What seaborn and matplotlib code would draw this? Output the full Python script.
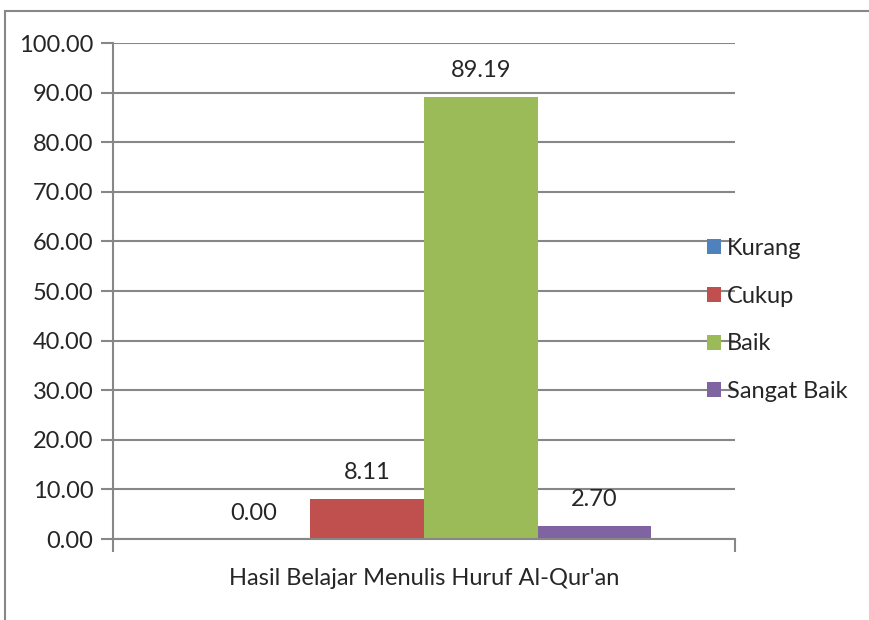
import matplotlib.pyplot as plt
import numpy as np
import pandas as pd
import seaborn as sns
from matplotlib.patches import Rectangle

## Data
group_label = "Hasil Belajar Menulis Huruf Al-Qur'an"
categories = ['Kurang', 'Cukup', 'Baik', 'Sangat Baik']
values = [0.00, 8.11, 89.19, 2.70]
colors = ['#4F81BD', '#C0504D', '#9BBB59', '#8064A2']
yticks = np.arange(0, 101, 10)

df = pd.DataFrame({'grp': [group_label] * len(categories), 'kategori': categories, 'nilai': values})

sns.set_style('white')
plt.rcParams['font.family'] = ['Lato', 'DejaVu Sans']
grid_col = '#878787'
fs = 17

fig = plt.figure(figsize=(8.7, 6.2), dpi=100)
ax = fig.add_axes([113 / 870, 1 - 539 / 620, (735 - 113) / 870, (539 - 43) / 620])

sns.barplot(data=df, x='grp', y='nilai', hue='kategori', hue_order=categories,
            palette=colors, width=0.73, saturation=1, linewidth=0, ax=ax, legend=True)

for c in ax.containers:
    ax.bar_label(c, fmt='%.2f', padding=11, fontsize=fs)

ax.set_ylim(0, 100)
ax.set_xlim(-0.5, 0.5)
ax.set_yticks(yticks)
ax.set_yticklabels([f'{v:.2f}' for v in yticks], fontsize=fs)
ax.yaxis.grid(True, color=grid_col, linewidth=1.5)
ax.set_axisbelow(True)
ax.tick_params(axis='y', left=True, length=9, width=1.5, color=grid_col, pad=5)
ax.set_xticks([0])
ax.set_xticklabels([group_label], fontsize=fs)
ax.set_xticks([-0.5, 0.5], minor=True)
ax.tick_params(axis='x', which='major', length=0, pad=21)
ax.tick_params(axis='x', which='minor', bottom=True, length=9, width=1.5, color=grid_col)
ax.set_xlabel('')
ax.set_ylabel('')
for s in ['top', 'right']:
    ax.spines[s].set_visible(False)
for s in ['left', 'bottom']:
    ax.spines[s].set_color(grid_col)
    ax.spines[s].set_linewidth(1.5)

handles, labels = ax.get_legend_handles_labels()
ax.legend(handles, labels, loc='center left', bbox_to_anchor=(707 / 870, 1 - 320 / 620),
          bbox_transform=fig.transFigure, frameon=False, fontsize=fs,
          handlelength=0.6, handleheight=0.6, handletextpad=0.25, labelspacing=1.13,
          borderpad=0, borderaxespad=0)

# chart border
fig.patches.append(Rectangle((5 / 870, -0.1), 1.2, 1 - 11 / 620 + 0.1, transform=fig.transFigure,
                             fill=False, edgecolor=grid_col, linewidth=1.5))

fig.savefig('out.png', dpi=100)
